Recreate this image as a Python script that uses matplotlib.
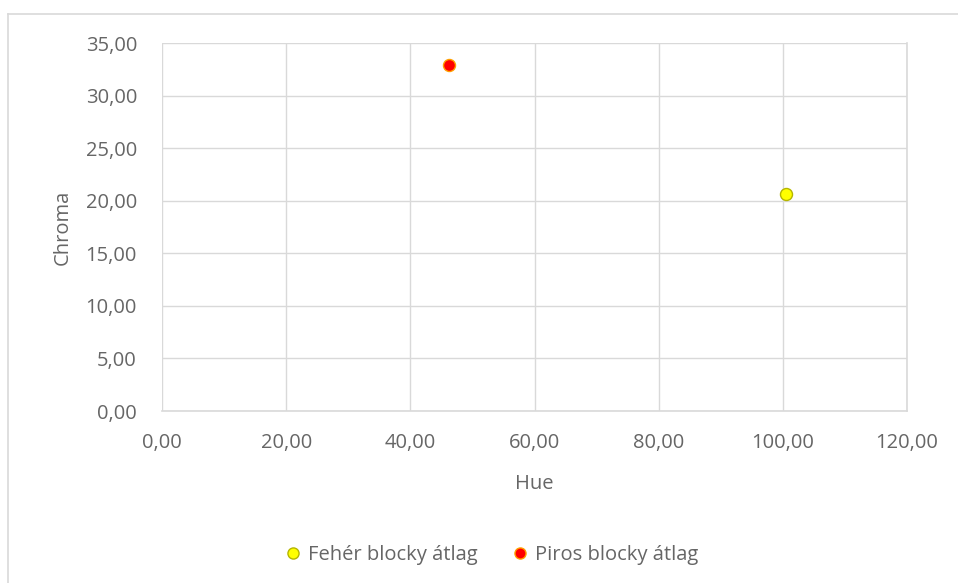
import matplotlib
matplotlib.use("Agg")
import matplotlib.pyplot as plt
from matplotlib.lines import Line2D

plt.rcParams['font.family'] = ['Open Sans', 'DejaVu Sans']

series_names = ["Fehér blocky átlag", "Piros blocky átlag"]
hue = [100.5, 46.3]
chroma = [20.6, 32.9]
face_colors = ["#ffff00", "#ff0000"]
edge_colors = ["#b5b500", "#ffa000"]

x_ticks = [0, 20, 40, 60, 80, 100, 120]
y_ticks = [0, 5, 10, 15, 20, 25, 30, 35]

TEXT = "#666666"
GRID = "#d9d9d9"
FS = 14.5


def fmt(v):
    return f"{v:.2f}".replace(".", ",")


W, H = 958, 583
fig = plt.figure(figsize=(W / 100, H / 100), dpi=100)
fig.patch.set_facecolor("white")

# chart frame (top and left edges fall inside the canvas)
fig.add_artist(Line2D([8 / W, 1.0], [1 - 14 / H, 1 - 14 / H], color=GRID, lw=1.2))
fig.add_artist(Line2D([8 / W, 8 / W], [0.0, 1 - 14 / H], color=GRID, lw=1.2))

ax = fig.add_axes([162 / W, 1 - 411 / H, (907 - 162) / W, (411 - 43) / H])
ax.set_xlim(0, 120)
ax.set_ylim(0, 35)
ax.set_xticks(x_ticks)
ax.set_yticks(y_ticks)
ax.set_xticklabels([fmt(v) for v in x_ticks])
ax.set_yticklabels([fmt(v) for v in y_ticks])
ax.grid(True, color=GRID, lw=1.0)
ax.set_axisbelow(True)
for side in ["top", "left"]:
    ax.spines[side].set_visible(False)
for side in ["bottom", "right"]:
    ax.spines[side].set_color(GRID)
    ax.spines[side].set_linewidth(1.2)
ax.tick_params(length=0, labelsize=FS, colors=TEXT)
ax.tick_params(axis="y", pad=18)
ax.tick_params(axis="x", pad=16)

for name, x, y, fc, ec in zip(series_names, hue, chroma, face_colors, edge_colors):
    ax.scatter([x], [y], s=75, c=fc, edgecolors=ec, linewidths=1.0, label=name, zorder=3)

ax.set_xlabel("Hue", fontsize=FS, color=TEXT)
ax.xaxis.set_label_coords(0.5, (411 - 474) / 368)
ax.set_ylabel("Chroma", fontsize=FS, color=TEXT, va="center")
ax.yaxis.set_label_coords((63 - 162) / 745, 0.5)

handles = [Line2D([], [], marker="o", ls="", markersize=8, markerfacecolor=fc,
                  markeredgecolor=ec, label=n)
           for n, fc, ec in zip(series_names, face_colors, edge_colors)]
fig.legend(handles=handles, loc="center", bbox_to_anchor=(493 / W, 1 - 555 / H), ncol=2,
           frameon=False, fontsize=FS, labelcolor=TEXT, handletextpad=0.45,
           columnspacing=1.8, handlelength=0.6, borderpad=0.2)

fig.savefig("out.png", dpi=100)
